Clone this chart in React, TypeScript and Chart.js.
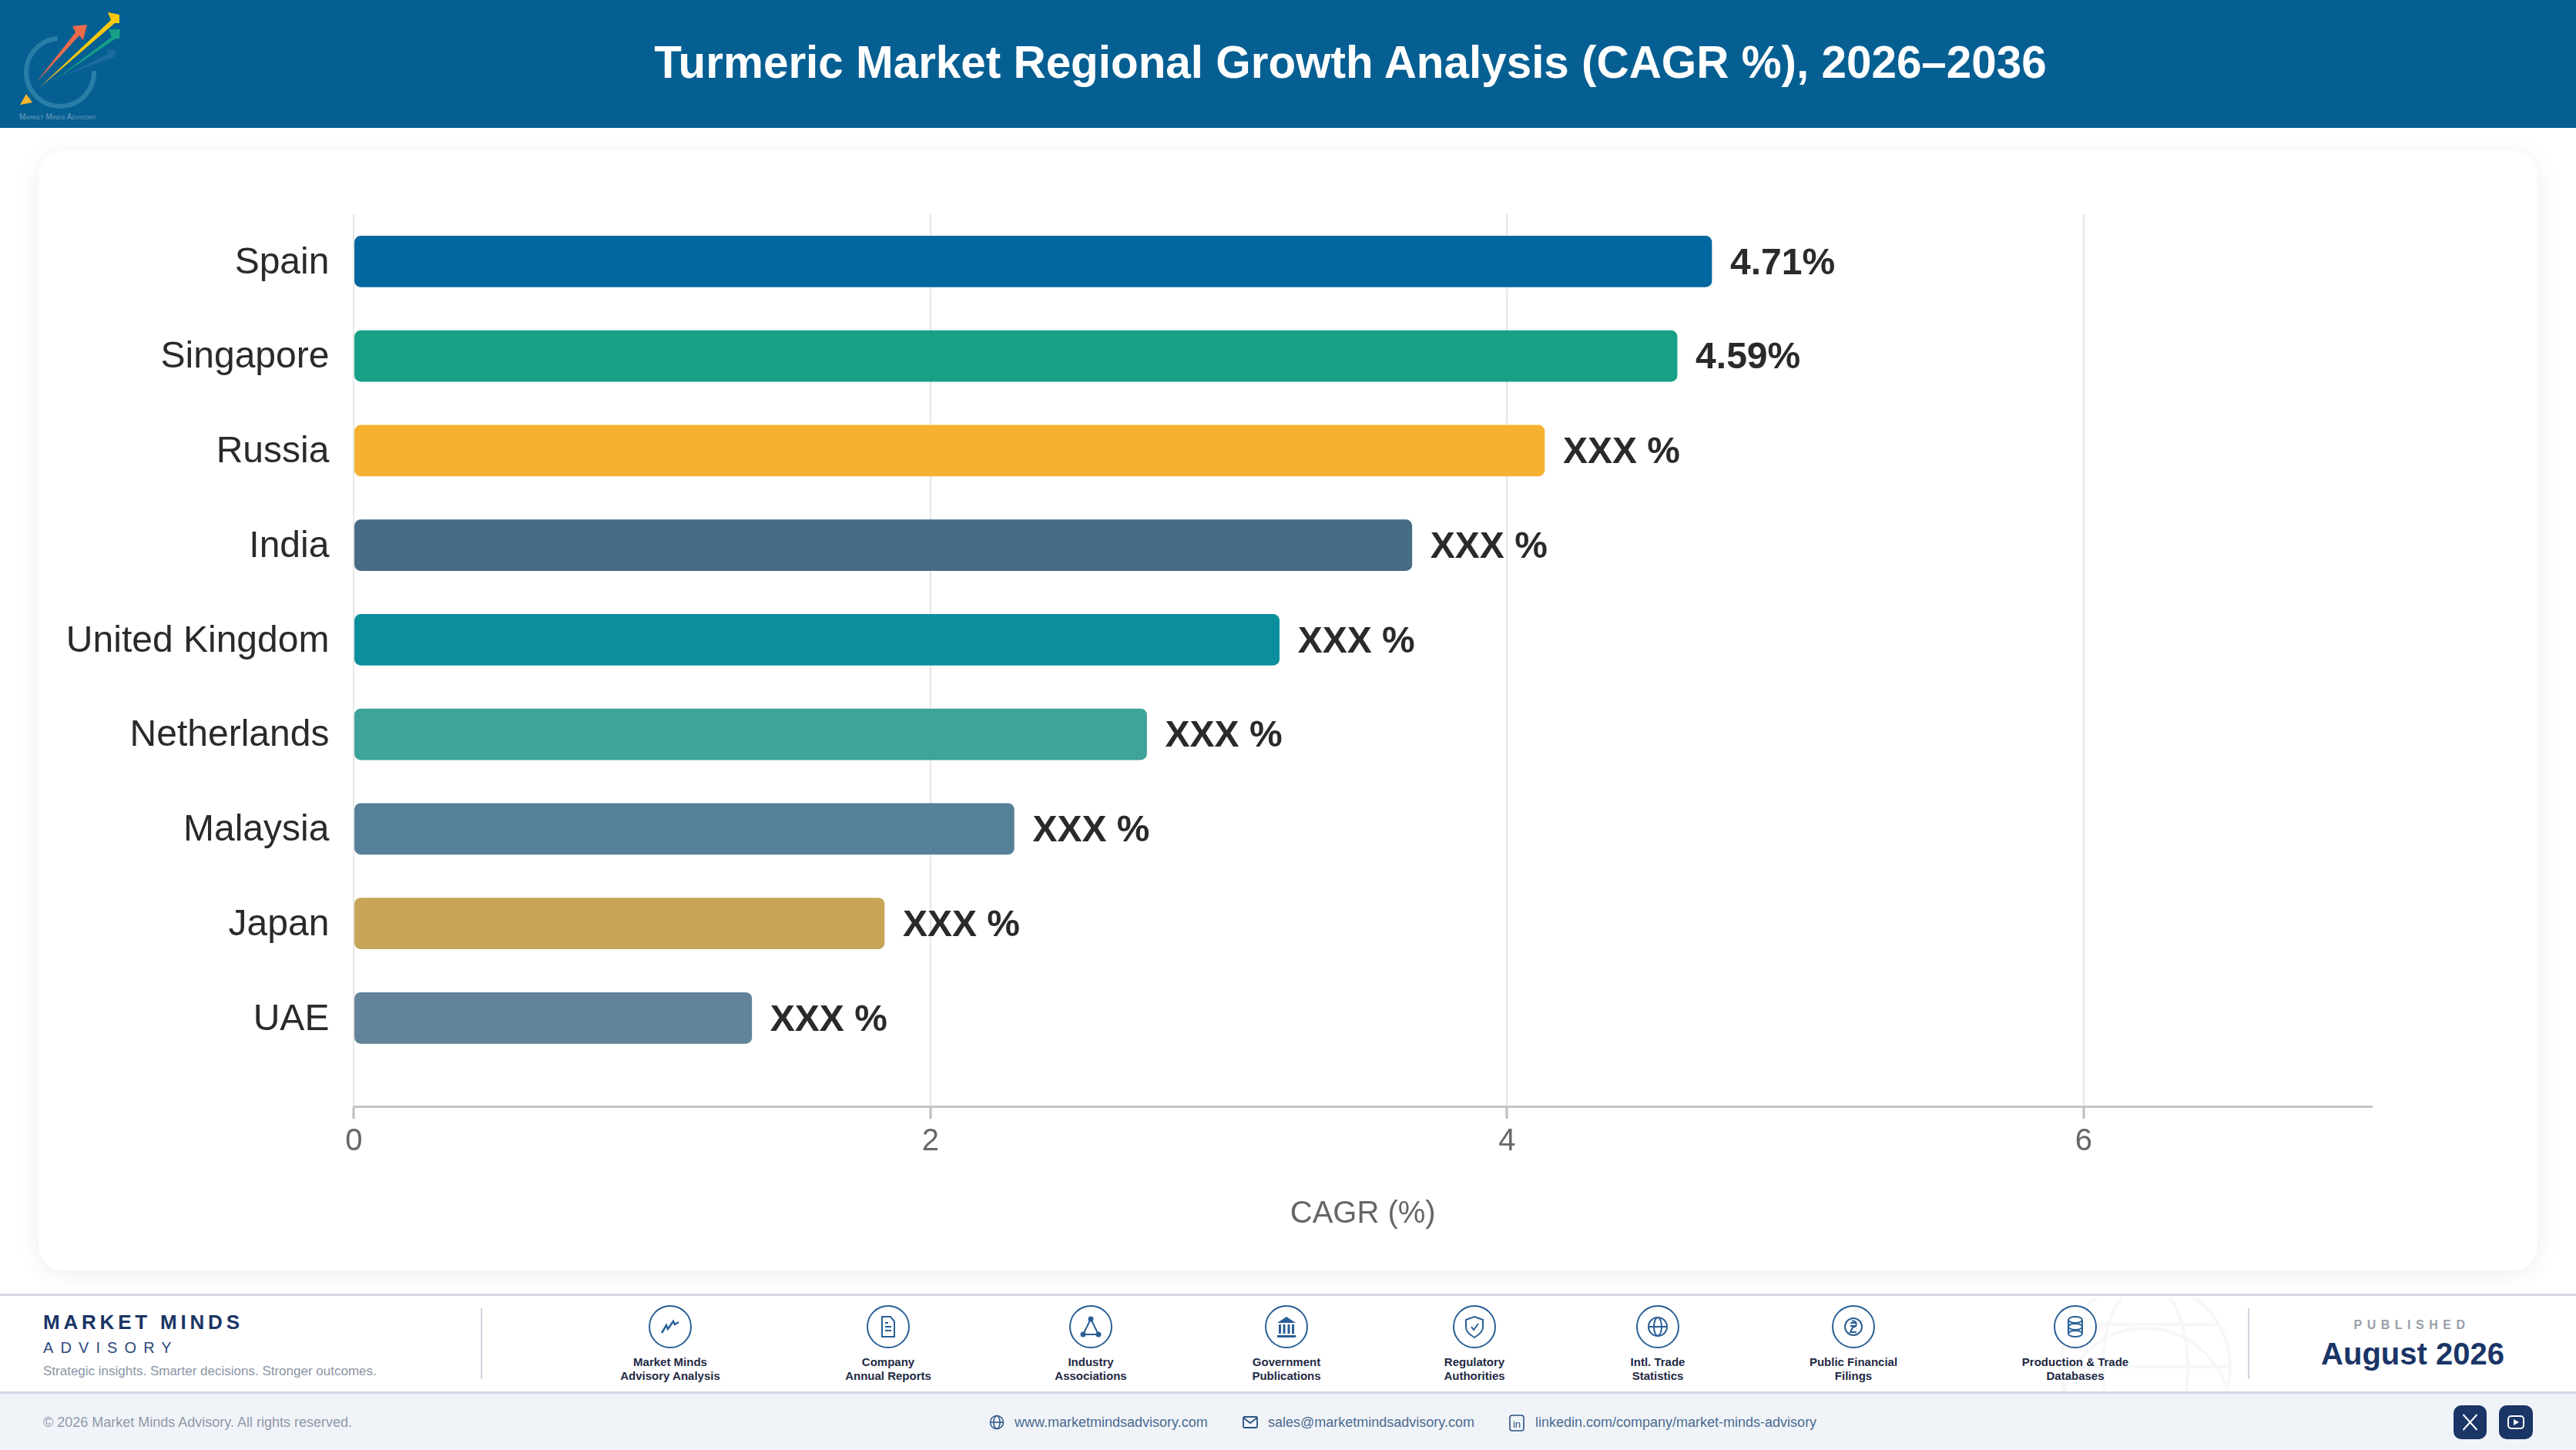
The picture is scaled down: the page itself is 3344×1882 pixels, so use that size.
import React, { useEffect, useRef } from "react";
import { Chart, registerables } from "chart.js";

Chart.register(...registerables);

const categories = ["Spain", "Singapore", "Russia", "India", "United Kingdom", "Netherlands", "Malaysia", "Japan", "UAE"];
const values = [4.71, 4.59, 4.13, 3.67, 3.21, 2.75, 2.29, 1.84, 1.38];
const valueLabels = ["4.71%", "4.59%", "XXX %", "XXX %", "XXX %", "XXX %", "XXX %", "XXX %", "XXX %"];
const barColors = ["#02679f", "#17a085", "#f5b12f", "#456b85", "#0b8f9d", "#3ea399", "#567f98", "#c7a558", "#62839a"];
const xTicks = [0, 2, 4, 6];
const axisTitle = "CAGR (%)";
const chartTitle = "Turmeric Market Regional Growth Analysis (CAGR %), 2026–2036";

const sources: [string, string, number][] = [
  ["Market Minds", "Advisory Analysis", 870],
  ["Company", "Annual Reports", 1153],
  ["Industry", "Associations", 1416],
  ["Government", "Publications", 1670],
  ["Regulatory", "Authorities", 1914],
  ["Intl. Trade", "Statistics", 2152],
  ["Public Financial", "Filings", 2406],
  ["Production & Trade", "Databases", 2694],
];

const FONT = '"Liberation Sans", Arial, sans-serif';

const valueLabelPlugin = {
  id: "valueLabels",
  afterDatasetsDraw(chart: any) {
    const { ctx } = chart;
    const meta = chart.getDatasetMeta(0);
    ctx.save();
    ctx.font = `bold 48px ${FONT}`;
    ctx.fillStyle = "#2a2a2a";
    ctx.textAlign = "left";
    ctx.textBaseline = "middle";
    meta.data.forEach((bar: any, i: number) => {
      ctx.fillText(valueLabels[i], bar.x + 24, bar.y + 3);
    });
    ctx.restore();
  },
};

const abs = (s: React.CSSProperties): React.CSSProperties => ({ position: "absolute", whiteSpace: "nowrap", ...s });

function Txt({ x, y, size, color, bold, spacing, align, children }: any) {
  const tx = align === "center" ? "-50%" : "0";
  return (
    <div style={abs({ left: x, top: y, fontSize: size, color, fontWeight: bold ? 700 : 400, letterSpacing: spacing, lineHeight: 1, transform: `translate(${tx}, -50%)` })}>
      {children}
    </div>
  );
}

const ICON = "#2a5f96";
function Glyph({ i }: { i: number }) {
  const p = { fill: "none", stroke: ICON, strokeWidth: 2 } as any;
  switch (i) {
    case 0:
      return <path d="M-11 8 L-5 -2 L-3 3 L4 -7 L6 -3 L11 -6" {...p} strokeWidth={2.5} />;
    case 1:
      return (
        <g {...p}>
          <path d="M-8 -13 H3 L8 -7 V13 H-8 Z" />
          <path d="M-4 0 H4 M-4 5 H4 M-4 -5 H0" />
        </g>
      );
    case 2:
      return (
        <g {...p}>
          <path d="M0 -10 L-10 10 H10 Z" />
          <circle cx={0} cy={-10} r={2.5} fill={ICON} />
          <circle cx={-10} cy={10} r={2.5} fill={ICON} />
          <circle cx={10} cy={10} r={2.5} fill={ICON} />
        </g>
      );
    case 3:
      return (
        <g fill={ICON}>
          <path d="M0 -13 L12 -5 H-12 Z" />
          <rect x={-10} y={-3} width={3} height={12} />
          <rect x={-4.5} y={-3} width={3} height={12} />
          <rect x={1.5} y={-3} width={3} height={12} />
          <rect x={7} y={-3} width={3} height={12} />
          <rect x={-12} y={11} width={24} height={3} />
        </g>
      );
    case 4:
      return (
        <g {...p}>
          <path d="M0 -13 L11 -9 V1 C11 7 5 11 0 14 C-5 11 -11 7 -11 1 V-9 Z" />
          <path d="M-4 0 L-1 4 L5 -4" />
        </g>
      );
    case 5:
      return (
        <g {...p}>
          <circle r={12} />
          <ellipse rx={5} ry={12} />
          <path d="M-12 0 H12" />
        </g>
      );
    case 6:
      return (
        <g {...p}>
          <circle r={11} />
          <path d="M-4 -5 H4 M-4 -1 H4 M-2 -8 C6 -7 5 0 -1 1 L-4 7 H4" />
        </g>
      );
    default:
      return (
        <g {...p}>
          <ellipse cy={-9} rx={9} ry={4} />
          <ellipse cy={0} rx={9} ry={4} />
          <ellipse cy={9} rx={9} ry={4} />
          <path d="M-9 -9 V9 M9 -9 V9" />
        </g>
      );
  }
}

function Logo() {
  return (
    <svg style={abs({ left: 0, top: 0 })} width={170} height={166}>
      <path d="M75 50 A44 44 0 1 0 122 92" fill="none" stroke="#3a8fb0" strokeWidth={6} opacity={0.65} />
      <path d="M47 107 L98 42 L94 34 L113 32 L108 52 L103 46 Z" fill="#ee6a4b" />
      <path d="M51 114 L144 26 L140 16 L155 19 L155 30 L149 30 Z" fill="#fcc90d" />
      <path d="M68 106 L145 48 L141 38 L156 38 L155 50 L150 50 Z" fill="#16a085" />
      <path d="M80 100 L140 70 L138 64 L150 65 L148 74 Z" fill="#1a6aa0" />
      <path d="M34 122 L26 136 L42 133 Z" fill="#fbb62d" />
      <text x={25} y={155} fontSize={10} fill="#8fb5cc" opacity={0.75} fontVariant="small-caps" fontFamily={FONT}>Market Minds Advisory</text>
    </svg>
  );
}

export default function App() {
  const ref = useRef<HTMLCanvasElement>(null);

  useEffect(() => {
    document.body.style.margin = "0";
    const chart = new Chart(ref.current!, {
      type: "bar",
      data: {
        labels: categories,
        datasets: [
          {
            data: values.map((v, i) => ({ x: v, y: i })),
            backgroundColor: barColors,
            borderRadius: 8,
            borderSkipped: false,
            barThickness: 66,
          },
        ],
      },
      options: {
        indexAxis: "y",
        animation: false,
        responsive: false,
        devicePixelRatio: 1,
        layout: { padding: { top: 82, right: 215, left: 0, bottom: 0 } },
        plugins: { legend: { display: false }, tooltip: { enabled: false } },
        scales: {
          x: {
            type: "linear",
            position: "bottom",
            min: 0,
            max: 7,
            afterBuildTicks: (s: any) => {
              s.ticks = xTicks.map((value) => ({ value }));
            },
            afterFit: (s: any) => {
              s.height = 213;
            },
            grid: { color: "#e6e6e6", lineWidth: 2, drawTicks: true, tickLength: 16, tickColor: "#bdbdbd", tickWidth: 3 } as any,
            border: { color: "#c4c4c4", width: 3 },
            ticks: { color: "#666666", font: { size: 40, family: FONT }, padding: 6, maxRotation: 0 },
            title: { display: true, text: axisTitle, color: "#666666", font: { size: 40, family: FONT }, padding: { top: 0, bottom: 49 } },
          },
          y: {
            type: "linear",
            reverse: true,
            bounds: "data",
            offset: false,
            min: -0.5,
            max: 8.934,
            afterBuildTicks: (s: any) => {
              s.min = -0.5;
              s.max = 8.934;
              s.ticks = categories.map((_, value) => ({ value }));
            },
            afterFit: (s: any) => {
              s.width = 409.4;
            },
            grid: { display: false, offset: false },
            border: { display: false },
            ticks: {
              color: "#2a2a2a",
              font: { size: 48, family: FONT },
              padding: 24,
              labelOffset: 2,
              callback: (v: any) => categories[v],
            },
          },
        },
      },
      plugins: [valueLabelPlugin],
    } as any);
    return () => chart.destroy();
  }, []);

  return (
    <div style={abs({ left: 0, top: 0, width: 3344, height: 1882, overflow: "hidden", background: "#fff", fontFamily: FONT })}>
      <div style={abs({ left: 0, top: 0, width: 3344, height: 166, background: "#065f92" })} />
      <Logo />
      <Txt x={1753} y={81} size={58.4} color="#fff" bold align="center">{chartTitle}</Txt>

      <div style={abs({ left: 50, top: 196, width: 3244, height: 1453, borderRadius: 32, background: "#fff", boxShadow: "0 4px 30px rgba(0,0,0,0.07)" })} />
      <canvas ref={ref} width={3244} height={1453} style={abs({ left: 50, top: 196, width: 3244, height: 1453 })} />

      <div style={abs({ left: 0, top: 1679, width: 3344, height: 130, background: "#fff", borderTop: "3px solid #d5d8e6", borderBottom: "3px solid #d5d8e6", boxSizing: "border-box" })} />
      <svg style={abs({ left: 2660, top: 1684, opacity: 0.03 })} width={250} height={122}>
        <g fill="none" stroke="#1a3566" strokeWidth={4}>
          <circle cx={125} cy={90} r={110} />
          <ellipse cx={125} cy={90} rx={55} ry={110} />
          <path d="M15 90 H235 M30 35 H220" />
          <circle cx={125} cy={150} r={110} />
        </g>
      </svg>
      <Txt x={56} y={1716} size={26} color="#1a3566" bold spacing={4.8}>MARKET MINDS</Txt>
      <Txt x={56} y={1749} size={20} color="#2c4a7c" spacing={9.1}>ADVISORY</Txt>
      <Txt x={56} y={1779} size={17} color="#8a94a3">Strategic insights. Smarter decisions. Stronger outcomes.</Txt>
      <div style={abs({ left: 624, top: 1698, width: 2, height: 92, background: "#cdd5de" })} />
      <div style={abs({ left: 2918, top: 1698, width: 2, height: 92, background: "#cdd5de" })} />

      {sources.map(([a, b, x], i) => (
        <React.Fragment key={a}>
          <svg style={abs({ left: x - 29, top: 1693 })} width={58} height={58} viewBox="-29 -29 58 58">
            <circle r={27} fill="#fff" stroke={ICON} strokeWidth={2} />
            <Glyph i={i} />
          </svg>
          <Txt x={x} y={1767} size={15} color="#1f2a44" bold align="center">{a}</Txt>
          <Txt x={x} y={1785} size={15} color="#1f2a44" bold align="center">{b}</Txt>
        </React.Fragment>
      ))}

      <Txt x={3131} y={1720} size={16} color="#9a9fa8" bold spacing={6.5} align="center">PUBLISHED</Txt>
      <Txt x={3132} y={1757} size={40} color="#1a3566" bold align="center">August 2026</Txt>

      <div style={abs({ left: 0, top: 1809, width: 3344, height: 73, background: "#f0f4f9" })} />
      <Txt x={56} y={1846} size={18} color="#8f99a8">© 2026 Market Minds Advisory. All rights reserved.</Txt>

      <svg style={abs({ left: 1284, top: 1836 })} width={20} height={20} viewBox="-10 -10 20 20">
        <g fill="none" stroke="#2c5282" strokeWidth={1.5}>
          <circle r={8.5} />
          <ellipse rx={4} ry={8.5} />
          <path d="M-8.5 0 H8.5" />
        </g>
      </svg>
      <Txt x={1317} y={1846} size={18} color="#4a6a8f">www.marketmindsadvisory.com</Txt>
      <svg style={abs({ left: 1613, top: 1836 })} width={20} height={20} viewBox="-10 -10 20 20">
        <g fill="none" stroke="#2c5282" strokeWidth={1.8}>
          <rect x={-9} y={-7} width={18} height={14} rx={1.5} />
          <path d="M-9 -6 L0 1 L9 -6" />
        </g>
      </svg>
      <Txt x={1646} y={1846} size={18} color="#4a6a8f">sales@marketmindsadvisory.com</Txt>
      <svg style={abs({ left: 1959, top: 1836 })} width={20} height={22} viewBox="-10 -11 20 22">
        <rect x={-9} y={-10} width={18} height={20} rx={3} fill="none" stroke="#2c5282" strokeWidth={1.6} />
        <text x={0} y={6} textAnchor="middle" fontSize={13} fill="#2c5282" fontFamily={FONT}>in</text>
      </svg>
      <Txt x={1993} y={1846} size={18} color="#4a6a8f">linkedin.com/company/market-minds-advisory</Txt>

      <div style={abs({ left: 3185, top: 1824, width: 43, height: 44, borderRadius: 10, background: "#1a3566" })} />
      <svg style={abs({ left: 3185, top: 1824 })} width={43} height={44} viewBox="-21.5 -22 43 44">
        <path d="M-9 -10 L9 10 M9 -10 L-9 10" stroke="#fff" strokeWidth={2} fill="none" />
      </svg>
      <div style={abs({ left: 3244, top: 1824, width: 44, height: 44, borderRadius: 10, background: "#1a3566" })} />
      <svg style={abs({ left: 3244, top: 1824 })} width={44} height={44} viewBox="-22 -22 44 44">
        <rect x={-10} y={-8} width={20} height={16} rx={4} fill="none" stroke="#fff" strokeWidth={2} />
        <path d="M-3 -4 L4 0 L-3 4 Z" fill="#fff" />
      </svg>
    </div>
  );
}
